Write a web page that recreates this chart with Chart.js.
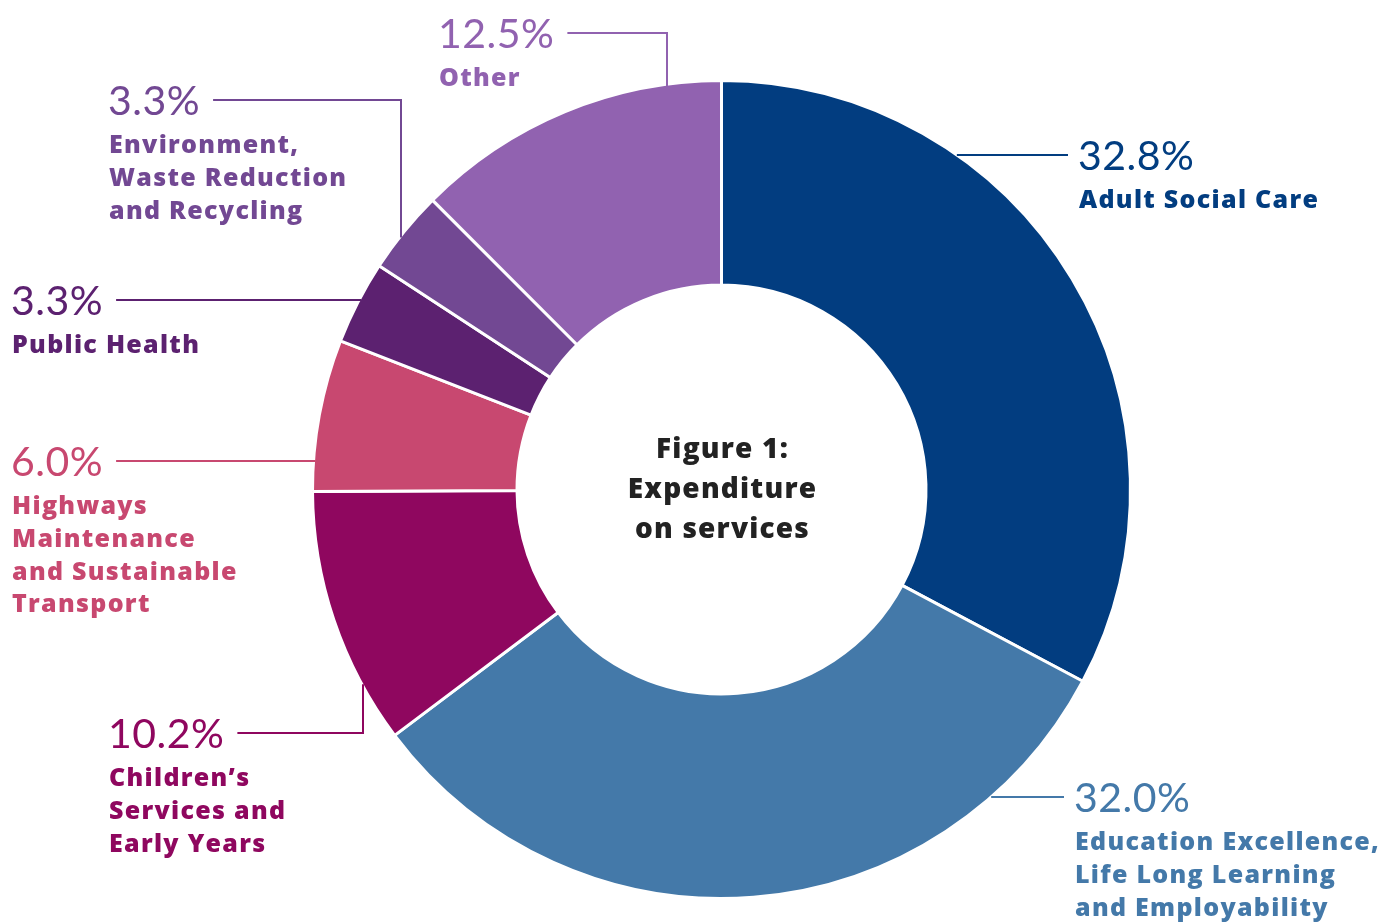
<!DOCTYPE html>
<html>
<head>
<meta charset="utf-8">
<script src="https://cdn.jsdelivr.net/npm/chart.js@4.4.1/dist/chart.umd.min.js"></script>
<style>
  html, body { margin: 0; padding: 0; background: #fff; }
  #wrap { width: 1385px; height: 922px; position: relative; }
</style>
</head>
<body>
<div id="wrap"><canvas id="chart1"></canvas></div>
<script>
// data, clockwise from 12 o'clock
const categories = ['Adult Social Care', 'Education Excellence, Life Long Learning and Employability',
  "Children's Services and Early Years", 'Highways Maintenance and Sustainable Transport',
  'Public Health', 'Environment, Waste Reduction and Recycling', 'Other'];
const shares = [32.8, 32.0, 10.2, 6.0, 3.3, 3.3, 12.5];
const pctLabels = ['32.8%', '32.0%', '10.2%', '6.0%', '3.3%', '3.3%', '12.5%'];
const nameLines = [
  ['Adult Social Care'],
  ['Education Excellence,', 'Life Long Learning', 'and Employability'],
  ['Children\u2019s', 'Services and', 'Early Years'],
  ['Highways', 'Maintenance', 'and Sustainable', 'Transport'],
  ['Public Health'],
  ['Environment,', 'Waste Reduction', 'and Recycling'],
  ['Other']
];
const colours = ['#023d80', '#4479a9', '#8f075f', '#c84870', '#5c2170', '#724893', '#9162b0'];
const centreTitle = ['Figure 1:', 'Expenditure', 'on services'];

// where each callout sits (x of text, y of leader line, elbow x if the line bends)
const callouts = [
  { x: 1080, y: 155, side: 'right' },
  { x: 1076, y: 797, side: 'right' },
  { x: 110, y: 733, side: 'left', elbow: 363 },
  { x: 13, y: 461, side: 'left' },
  { x: 13, y: 300, side: 'left' },
  { x: 110, y: 100, side: 'left', elbow: 401 },
  { x: 440, y: 33, side: 'left', elbow: 667 }
];

const FONT = 'Lato, "Noto Sans", sans-serif';
const BOLD = '"Open Sans", Lato, sans-serif';

const calloutPlugin = {
  id: 'callouts',
  afterDraw(chart) {
    const ctx = chart.ctx;
    const arc = chart.getDatasetMeta(0).data[0];
    const cx = arc.x, cy = arc.y, r = arc.outerRadius;
    ctx.save();
    callouts.forEach((c, i) => {
      const col = colours[i];
      ctx.font = '41px ' + FONT;
      ctx.letterSpacing = '0.5px';
      const w = ctx.measureText(pctLabels[i]).width;
      // leader line
      ctx.strokeStyle = col;
      ctx.lineWidth = 2;
      ctx.beginPath();
      if (c.side === 'right') {
        const ax = cx + Math.sqrt(r * r - (c.y - cy) * (c.y - cy));
        ctx.moveTo(ax, c.y);
        ctx.lineTo(c.x - 12, c.y);
      } else {
        const sx = c.x + w + 11;
        ctx.moveTo(sx, c.y);
        if (c.elbow !== undefined) {
          const dy = Math.sqrt(r * r - (c.elbow - cx) * (c.elbow - cx));
          const ay = c.y < cy ? cy - dy : cy + dy;
          ctx.lineTo(c.elbow, c.y);
          ctx.lineTo(c.elbow, ay + (c.y < cy ? 2 : -2));
        } else {
          const ax = cx - Math.sqrt(r * r - (c.y - cy) * (c.y - cy));
          ctx.lineTo(ax + 2, c.y);
        }
      }
      ctx.stroke();
      // percent
      ctx.fillStyle = col;
      ctx.textAlign = 'left';
      ctx.textBaseline = 'middle';
      ctx.fillText(pctLabels[i], c.x - 2, c.y + 2);
      // category name
      ctx.font = '800 25px ' + BOLD;
      ctx.letterSpacing = '1.3px';
      nameLines[i].forEach((t, k) => {
        ctx.fillText(t, c.x - 1, c.y + 46 + k * 32.7);
      });
    });
    // centre text
    ctx.fillStyle = '#222222';
    ctx.font = '800 28px ' + BOLD;
    ctx.letterSpacing = '1.2px';
    ctx.textAlign = 'center';
    ctx.textBaseline = 'middle';
    centreTitle.forEach((t, k) => ctx.fillText(t, cx + 1, cy - 39 + k * 40));
    ctx.restore();
  }
};

const chart1 = document.getElementById('chart1');
new Chart(chart1, {
  type: 'doughnut',
  data: {
    labels: categories,
    datasets: [{
      data: shares,
      backgroundColor: colours,
      borderColor: '#ffffff',
      borderWidth: 3,
      hoverOffset: 0
    }]
  },
  options: {
    responsive: true,
    maintainAspectRatio: false,
    animation: false,
    events: [],
    cutout: '50%',
    layout: { padding: { top: 79, bottom: 22, left: 311, right: 253 } },
    plugins: {
      legend: { display: false },
      tooltip: { enabled: false }
    }
  },
  plugins: [calloutPlugin]
});
</script>
</body>
</html>
